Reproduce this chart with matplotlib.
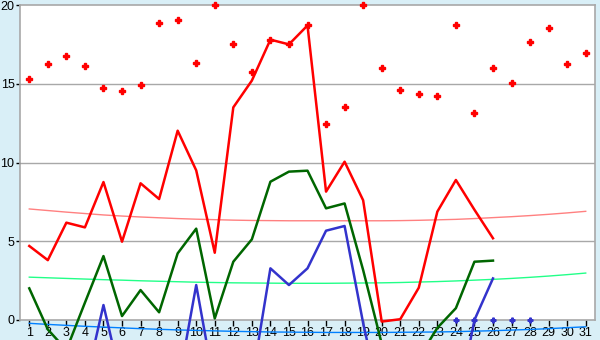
import numpy as np
import matplotlib
matplotlib.use("Agg")
import matplotlib.pyplot as plt

# days of the month
days = list(range(1, 32))
line_days = list(range(1, 27))

# daily scatter (red crosses)
red_dots = [15.3, 16.23, 16.74, 16.1, 14.71, 14.52, 14.9, 18.84, 19.03, 16.3,
            20.0, 17.5, 15.75, 17.8, 17.5, 18.7, 12.42, 13.5, 20.0, 15.98,
            14.58, 14.33, 14.2, 18.71, 13.12, 15.98, 15.03, 17.63, 18.52, 16.23,
            16.93]

# main series (days 1-26)
red_line = [4.7, 3.8, 6.18, 5.88, 8.76, 4.97, 8.68, 7.68, 12.02, 9.5,
            4.27, 13.5, 15.2, 17.8, 17.5, 18.7, 8.15, 10.05, 7.6, -0.1,
            0.05, 2.05, 6.88, 8.89, 7.0, 5.19]
green_line = [2.01, -0.6, -1.9, 1.1, 4.06, 0.25, 1.9, 0.49, 4.23, 5.8,
              0.1, 3.7, 5.12, 8.78, 9.42, 9.48, 7.09, 7.4, 3.17, -1.5,
              -2.5, -2.4, -0.5, 0.75, 3.7, 3.77]
blue_line = [-4.0, -4.5, -4.5, -4.2, 0.95, -4.1, -5.0, -5.0, -4.3, 2.22,
             -4.3, -5.0, -3.9, 3.28, 2.22, 3.28, 5.67, 5.97, -0.2, -5.5,
             -6.0, -6.0, -6.0, -5.9, 0.0, 2.64]

# small blue markers on the zero line
blue_mark_days = [24, 25, 26, 27, 28]
blue_marks = [0, 0, 0, 0, 0]

# smooth trend curves
red_trend = [7.05, 6.95, 6.85, 6.76, 6.67, 6.6, 6.54, 6.49, 6.44, 6.4,
             6.37, 6.34, 6.32, 6.31, 6.3, 6.3, 6.3, 6.3, 6.3, 6.3,
             6.31, 6.33, 6.36, 6.39, 6.44, 6.5, 6.56, 6.63, 6.71, 6.8, 6.9]
green_trend = [2.72, 2.68, 2.64, 2.6, 2.56, 2.53, 2.49, 2.46, 2.43, 2.4,
               2.38, 2.36, 2.35, 2.34, 2.33, 2.33, 2.33, 2.34, 2.35, 2.36,
               2.38, 2.41, 2.44, 2.48, 2.53, 2.58, 2.64, 2.71, 2.79, 2.88, 2.98]
blue_trend = [-0.21, -0.28, -0.34, -0.4, -0.45, -0.5, -0.55, -0.59, -0.63, -0.66,
              -0.69, -0.72, -0.74, -0.76, -0.77, -0.78, -0.79, -0.79, -0.79, -0.79,
              -0.78, -0.77, -0.76, -0.74, -0.71, -0.68, -0.64, -0.6, -0.55, -0.49, -0.43]

y_ticks = [0, 5, 10, 15, 20]

bg = '#d9eff7'
grey = '#a8a8a8'

plt.rcParams['font.family'] = ['Liberation Sans', 'DejaVu Sans']
fig = plt.figure(figsize=(6, 3.4), dpi=100, facecolor=bg)
ax = fig.add_axes([20 / 600, 20 / 340, 575 / 600, 315 / 340])
ax.set_facecolor('white')

ax.set_xlim(0.5, 31.5)
ax.set_ylim(0, 20)

for y in y_ticks[1:-1]:
    ax.axhline(y, color=grey, lw=1.0, zorder=1)

# trend curves (the blue one runs below the zero line)
ax.plot(days, red_trend, color='#ff8080', lw=1.0, zorder=2)
ax.plot(days, green_trend, color='#22ff88', lw=1.0, zorder=2)
ax.plot(days, blue_trend, color='#0080ff', lw=1.0, zorder=2, clip_on=False)

ax.plot(line_days, blue_line, color='#3333cc', lw=1.8, zorder=3, clip_on=False)
ax.plot(line_days, green_line, color='#006600', lw=1.8, zorder=3, clip_on=False)
ax.plot(line_days, red_line, color='#ff0000', lw=1.8, zorder=4, clip_on=False)

ax.plot(days, red_dots, ls='none', marker='P', ms=4.5, color='#ff0000',
        mec='#ff0000', zorder=5, clip_on=False)
ax.plot(blue_mark_days, blue_marks, ls='none', marker='P', ms=3.5,
        color='#3333cc', zorder=5, clip_on=False)

ax.set_xticks(days)
ax.set_xticklabels([str(d) for d in days])
ax.set_yticks(y_ticks)
ax.set_yticklabels([str(v) for v in y_ticks])

ax.tick_params(axis='x', length=4, width=1, pad=1, labelsize=9, colors='black')
ax.tick_params(axis='y', length=3, width=1, pad=1, labelsize=9, colors='black')

for side in ['left', 'right', 'top', 'bottom']:
    ax.spines[side].set_color(grey)
    ax.spines[side].set_linewidth(1.2)
    ax.spines[side].set_zorder(2.5)

fig.savefig('out.png', dpi=100, facecolor=bg)
